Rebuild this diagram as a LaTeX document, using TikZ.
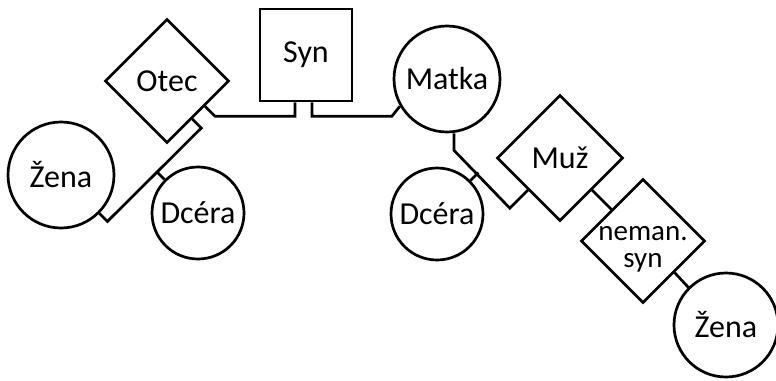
\documentclass[tikz,border=0pt]{standalone}
\usepackage{fontspec}
\setmainfont{Carlito}
\usetikzlibrary{shapes.geometric, calc}

\begin{document}
\begin{tikzpicture}[
    x=1pt, y=-1pt,
    line width=2.7pt,
    font=\fontsize{32}{34}\selectfont,
    person/.style={circle, draw, inner sep=0pt},
    kosoc/.style={diamond, draw, aspect=1, inner sep=0pt,
                  minimum width=124pt, minimum height=124pt},
    square/.style={rectangle, draw, minimum size=92pt, inner sep=0pt}
]
    \useasboundingbox (0,0) rectangle (776,380);

    % Top row (Otec, Syn, Matka)
    \node at (167, 81) [kosoc] (otec) {Otec};
    \node at (306, 55) [square] (syn) {Syn};
    \node at (447, 79) [person, minimum size=106pt] (matka) {Matka};
    \draw ($(otec.east)!0.4!(otec.south)$) -- ++(10,10) -| ([xshift=-11pt]syn.south);
    \draw ([xshift=6pt]syn.south) |- ([shift={(-8,10)}]matka.210) -- (matka.210);

    % Left branch (Žena, Dcéra)
    \node at (61, 175) [person, minimum size=106pt] (zena1) {Žena};
    \node at (198, 213) [person, minimum size=92pt] (dcera1) {Dcéra};
    \draw ($(otec.east)!0.6!(otec.south)$) -- ++(9,9)
        -- ([shift={(8,8)}]zena1.-45) -- (zena1.-45);
    \draw (dcera1.135) -- ++(-8,-8);

    % Right branch (Dcéra, Muž, neman. syn, Žena)
    \node at (437, 214) [person, minimum size=92pt] (dcera2) {Dcéra};
    \node at (560, 158) [kosoc, minimum width=126pt, minimum height=126pt] (muz) {Muž};
    \node at (643, 241) [kosoc, label={[align=center, yshift=-8pt,
        font=\fontsize{29}{27}\selectfont]center:neman.\\syn}] (neman) {};
    \node at (726, 325) [person, minimum size=104pt] (zena2) {Žena};
    \draw ([shift={(7,0)}]matka.south) -- ++(0,17)
        -- ([shift={(-18,18)}]muz.-135) -- (muz.-135);
    \draw (dcera2.45) -- ++(8,-8);
    \draw (muz.-45) -- (neman.135);
    \draw (neman.-45) -- (zena2.135);
\end{tikzpicture}
\end{document}
